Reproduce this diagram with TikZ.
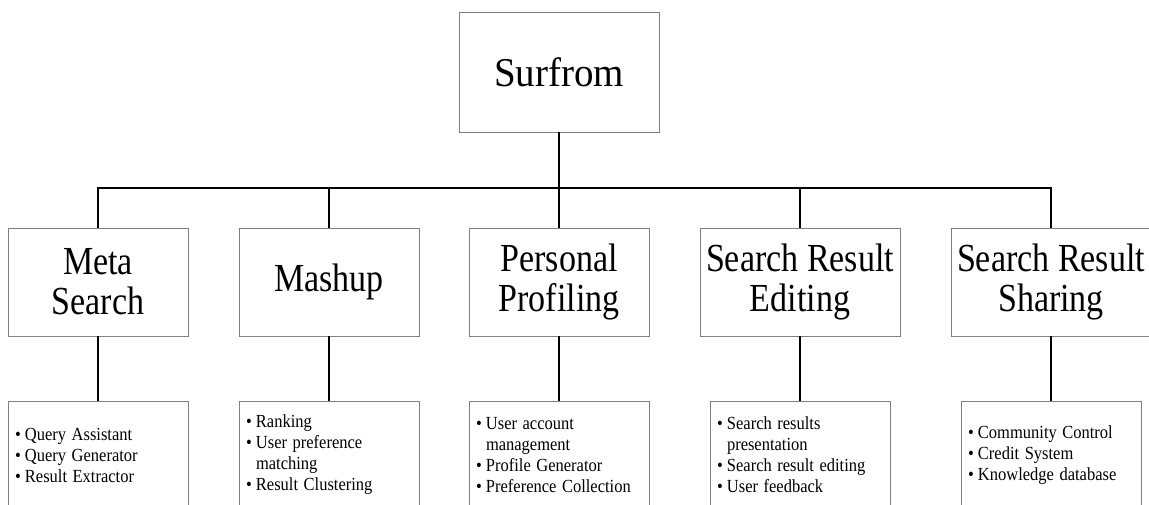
\documentclass[tikz,border=0pt]{standalone}
\usepackage{graphicx}
\usepackage{fontspec}
\setmainfont{Liberation Serif}
\newcommand\vsa[1]{\scalebox{1}[1.17]{#1}}
\newcommand\vsb[1]{\scalebox{1}[1.12]{#1}}
\newcommand\bl[1]{\vsb{\makebox[10pt][l]{\textbullet}#1}}
\newcommand\ct[1]{\vsb{\hspace*{10pt}#1}}
\begin{document}
\begin{tikzpicture}[x=1pt,y=-1pt,
  frame/.style={draw=black!50, line width=0.8pt, inner sep=0pt},
  mid/.style={frame, minimum width=180pt, minimum height=108pt, align=center,
    font=\fontsize{34}{40}\selectfont},
  wide/.style={mid, minimum width=200pt},
  leaf/.style={frame, minimum width=180pt, minimum height=108pt, text width=166pt,
    inner xsep=7pt, align=left, font=\fontsize{16.5}{21}\selectfont},
  conn/.style={line width=1.8pt, draw=black}]
\useasboundingbox (0,0) rectangle (1149,505);
\node[frame, minimum width=200pt, minimum height=120pt, font=\fontsize{39}{44}\selectfont] (top) at (559,72) {\scalebox{1}[1.05]{Surfrom}};
\coordinate (bus) at (559,188);
\node[mid]  (ms) at (98,282)   {\vsa{Meta}\\\vsa{Search}};
\node[mid]  (mu) at (329,282)  {\vsa{Mashup}};
\node[mid]  (pp) at (559,282)  {\vsa{Personal}\\\vsa{Profiling}};
\node[wide] (se) at (800,282)  {\vsa{Search Result}\\\vsa{Editing}};
\node[wide] (ss) at (1051,282) {\vsa{Search Result}\\\vsa{Sharing}};
\node[leaf] (lms) at (98,455)   {\bl{Query Assistant}\\\bl{Query Generator}\\\bl{Result Extractor}};
\node[leaf] (lmu) at (329,455)  {\bl{Ranking}\\\bl{User preference}\\\ct{matching}\\\bl{Result Clustering}};
\node[leaf] (lpp) at (559,455)  {\bl{User account}\\\ct{management}\\\bl{Profile Generator}\\\bl{Preference Collection}};
\node[leaf] (lse) at (800,455)  {\bl{Search results}\\\ct{presentation}\\\bl{Search result editing}\\\bl{User feedback}};
\node[leaf] (lss) at (1051,455) {\bl{Community Control}\\\bl{Credit System}\\\bl{Knowledge database}};
\draw[conn] (top.south) -- (bus);
\draw[conn] (ms.north) -- (ms.north |- bus) -- (ss.north |- bus) -- (ss.north);
\draw[conn] (mu.north) -- (mu.north |- bus);
\draw[conn] (pp.north) -- (bus);
\draw[conn] (se.north) -- (se.north |- bus);
\draw[conn] (ms.south) -- (lms.north);
\draw[conn] (mu.south) -- (lmu.north);
\draw[conn] (pp.south) -- (lpp.north);
\draw[conn] (se.south) -- (lse.north);
\draw[conn] (ss.south) -- (lss.north);
\end{tikzpicture}
\end{document}
